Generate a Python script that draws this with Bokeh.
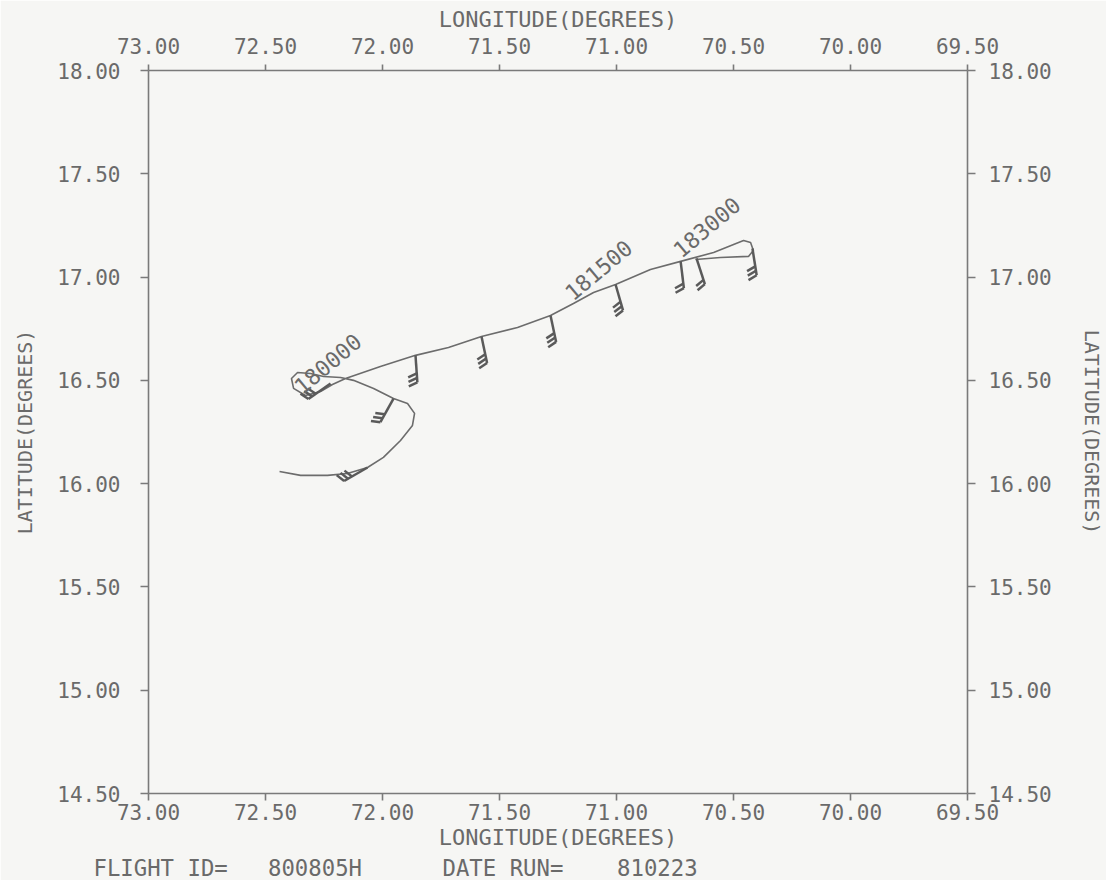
import numpy as np
from bokeh.plotting import figure
from bokeh.models import Range1d, FixedTicker, PrintfTickFormatter, LinearAxis, Title
from bokeh.core.properties import value
from bokeh.embed import file_html
from bokeh.resources import INLINE

# ---------------- data ----------------
lon_ticks = [73.0, 72.5, 72.0, 71.5, 71.0, 70.5, 70.0, 69.5]
lat_ticks = [14.5, 15.0, 15.5, 16.0, 16.5, 17.0, 17.5, 18.0]

track_lon = [72.440, 72.350, 72.235, 72.150, 72.064, 71.996, 71.923, 71.872, 71.863,
             71.893, 71.953, 72.038, 72.124, 72.179, 72.252, 72.308, 72.363, 72.389,
             72.380, 72.329, 72.265, 72.214, 72.158, 72.009, 71.859, 71.718, 71.577,
             71.423, 71.282, 71.184, 71.098, 71.004, 70.855, 70.726, 70.585, 70.457,
             70.427, 70.415, 70.436, 70.556, 70.662]
track_lat = [16.059, 16.040, 16.040, 16.049, 16.078, 16.127, 16.209, 16.282, 16.340,
             16.388, 16.412, 16.461, 16.500, 16.514, 16.519, 16.533, 16.538, 16.509,
             16.461, 16.427, 16.446, 16.480, 16.509, 16.567, 16.621, 16.659, 16.712,
             16.756, 16.814, 16.872, 16.925, 16.964, 17.037, 17.076, 17.119, 17.177,
             17.167, 17.129, 17.100, 17.095, 17.085]

barb_lon = [72.222, 71.953, 72.064, 71.859, 71.577, 71.282, 71.004, 70.726, 70.658, 70.419]
barb_lat = [16.485, 16.412, 16.078, 16.621, 16.712, 16.814, 16.964, 17.076, 17.090, 17.138]
barb_dir = [235, 209, 240, 176, 168, 168, 164, 173, 162, 171]
barb_spd = [30, 30, 30, 30, 30, 30, 30, 20, 20, 30]

time_text = ["180000", "181500", "183000"]
time_lon = [72.342, 71.185, 70.722]
time_lat = [16.427, 16.880, 17.088]

flight_id = "800805H"
date_run = "810223"

# ---------------- style ----------------
FRAME_W, FRAME_H = 819, 723
LINE = "#7a7a7a"
TRACK = "#6c6c6c"
BARB = "#5a5a5a"
TXT = "#6a6a6a"
BG = "#f6f6f4"
FONT = "DejaVu Sans Mono"
NB = "\u00a0"

p = figure(frame_width=FRAME_W, frame_height=FRAME_H,
           x_range=Range1d(73.0, 69.5), y_range=Range1d(14.5, 18.0),
           output_backend="svg", toolbar_location=None,
           min_border_left=148, min_border_right=130,
           min_border_top=70, min_border_bottom=80)
p.background_fill_color = BG
p.border_fill_color = BG
p.outline_line_color = None
p.grid.visible = False

bottom_ax = p.below[0]
left_ax = p.left[0]
top_ax = LinearAxis()
right_ax = LinearAxis()
p.add_layout(top_ax, "above")
p.add_layout(right_ax, "right")


def style(ax, ticks, tick_out, standoff, lab_standoff, label, lab_size):
    ax.ticker = FixedTicker(ticks=ticks)
    ax.formatter = PrintfTickFormatter(format="%.2f")
    ax.major_tick_out = tick_out
    ax.major_tick_in = 0
    ax.minor_tick_out = 0
    ax.minor_tick_in = 0
    ax.axis_line_color = LINE
    ax.axis_line_width = 1.6
    ax.major_tick_line_color = LINE
    ax.major_tick_line_width = 1.6
    ax.major_label_text_font = FONT
    ax.major_label_text_font_size = "21px"
    ax.major_label_text_color = TXT
    ax.major_label_standoff = standoff
    ax.axis_label = label
    ax.axis_label_text_font = FONT
    ax.axis_label_text_font_size = lab_size
    ax.axis_label_text_font_style = "normal"
    ax.axis_label_text_color = TXT
    ax.axis_label_standoff = lab_standoff


style(bottom_ax, lon_ticks, 7, 3, 2, "LONGITUDE(DEGREES)", "22px")
style(top_ax, lon_ticks, 6, 11, 3, "LONGITUDE(DEGREES)", "22px")
style(left_ax, lat_ticks, 8, 20, 17, "LATITUDE(DEGREES)", "20px")
style(right_ax, lat_ticks, 8, 13, 25, "LATITUDE(DEGREES)", "20px")

# footer line below the bottom axis
footer = ("FLIGHT" + NB + "ID=" + NB * 3 + flight_id + NB * 6 +
          "DATE" + NB + "RUN=" + NB * 4 + date_run)
p.add_layout(Title(text=footer, align="left", offset=-55, standoff=0,
                   text_font=FONT, text_font_size="22.3px", text_color=TXT,
                   text_font_style="normal"), "below")

# flight track
p.line(track_lon, track_lat, line_color=TRACK, line_width=1.6)

# wind barbs (staff toward wind direction, feathers on the right-hand side)
sx = FRAME_W / (73.0 - 69.5)
sy = FRAME_H / (18.0 - 14.5)
STAFF, FEATHER, SPACING = 27.0, 9.5, 4.5
bx, by = [], []
for lo, la, d, s in zip(barb_lon, barb_lat, barb_dir, barb_spd):
    th = np.radians(d)
    ue, un = np.sin(th), np.cos(th)
    re, rn = un, -ue

    def pt(e, n):
        return lo - e / sx, la + n / sy

    x0, y0 = pt(0, 0)
    x1, y1 = pt(STAFF * ue, STAFF * un)
    bx.append([x0, x1])
    by.append([y0, y1])
    nfull = s // 10
    half = (s % 10) >= 5
    k = 0
    for i in range(nfull):
        dist = STAFF - k * SPACING
        se, sn = dist * ue, dist * un
        ee = se + FEATHER * (0.93 * re + 0.37 * ue)
        en = sn + FEATHER * (0.93 * rn + 0.37 * un)
        a, b = pt(se, sn)
        c, d2 = pt(ee, en)
        bx.append([a, c])
        by.append([b, d2])
        k += 1
    if half:
        dist = STAFF - k * SPACING
        se, sn = dist * ue, dist * un
        ee = se + 0.5 * FEATHER * (0.93 * re + 0.37 * ue)
        en = sn + 0.5 * FEATHER * (0.93 * rn + 0.37 * un)
        a, b = pt(se, sn)
        c, d2 = pt(ee, en)
        bx.append([a, c])
        by.append([b, d2])

p.multi_line(bx, by, line_color=BARB, line_width=2.5)

# time labels along the track
p.text(x=time_lon, y=time_lat, text=time_text, angle=40, angle_units="deg",
       text_font=value(FONT), text_font_size="22px", text_color=TXT,
       text_align="left", text_baseline="bottom")

open("out.html", "w").write(file_html(p, INLINE))
